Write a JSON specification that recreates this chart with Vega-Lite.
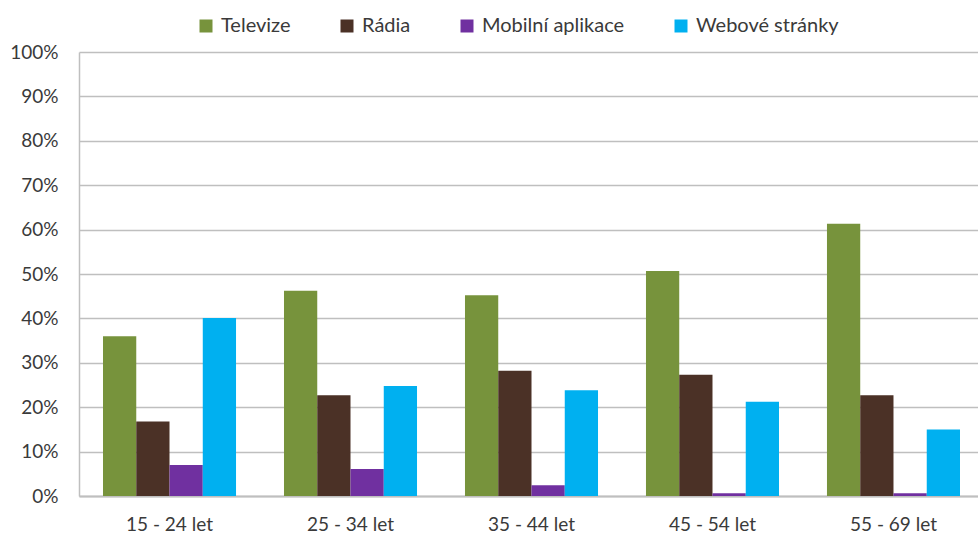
{
  "$schema": "https://vega.github.io/schema/vega-lite/v6.json",
  "width": 905,
  "height": 444,
  "autosize": {"type": "none"},
  "padding": {"left": 79, "top": 52, "right": 0, "bottom": 37},
  "background": "white",
  "data": {
    "values": [
      {"vek": "15 - 24 let", "medium": "Televize", "podil": 0.36},
      {"vek": "15 - 24 let", "medium": "Rádia", "podil": 0.168},
      {"vek": "15 - 24 let", "medium": "Mobilní aplikace", "podil": 0.07},
      {"vek": "15 - 24 let", "medium": "Webové stránky", "podil": 0.401},
      {"vek": "25 - 34 let", "medium": "Televize", "podil": 0.462},
      {"vek": "25 - 34 let", "medium": "Rádia", "podil": 0.227},
      {"vek": "25 - 34 let", "medium": "Mobilní aplikace", "podil": 0.061},
      {"vek": "25 - 34 let", "medium": "Webové stránky", "podil": 0.248},
      {"vek": "35 - 44 let", "medium": "Televize", "podil": 0.452},
      {"vek": "35 - 44 let", "medium": "Rádia", "podil": 0.282},
      {"vek": "35 - 44 let", "medium": "Mobilní aplikace", "podil": 0.024},
      {"vek": "35 - 44 let", "medium": "Webové stránky", "podil": 0.238},
      {"vek": "45 - 54 let", "medium": "Televize", "podil": 0.507},
      {"vek": "45 - 54 let", "medium": "Rádia", "podil": 0.273},
      {"vek": "45 - 54 let", "medium": "Mobilní aplikace", "podil": 0.006},
      {"vek": "45 - 54 let", "medium": "Webové stránky", "podil": 0.212},
      {"vek": "55 - 69 let", "medium": "Televize", "podil": 0.613},
      {"vek": "55 - 69 let", "medium": "Rádia", "podil": 0.227},
      {"vek": "55 - 69 let", "medium": "Mobilní aplikace", "podil": 0.006},
      {"vek": "55 - 69 let", "medium": "Webové stránky", "podil": 0.15}
    ]
  },
  "config": {
    "view": {"stroke": null},
    "font": "Lato",
    "axis": {"labelFont": "Lato", "labelFontSize": 19, "labelColor": "#3a3a3a"}
  },
  "mark": {"type": "bar"},
  "encoding": {
    "x": {
      "field": "vek",
      "type": "nominal",
      "sort": null,
      "scale": {"paddingInner": 0.265, "paddingOuter": 0.1326},
      "axis": {
        "title": null,
        "labelAngle": 0,
        "ticks": false,
        "labelPadding": 19,
        "domainColor": "#BFBFBF",
        "domainWidth": 2
      }
    },
    "xOffset": {
      "field": "medium",
      "type": "nominal",
      "sort": ["Televize", "Rádia", "Mobilní aplikace", "Webové stránky"],
      "scale": {"paddingInner": 0, "paddingOuter": 0}
    },
    "y": {
      "field": "podil",
      "type": "quantitative",
      "scale": {"domain": [0, 1], "nice": false},
      "axis": {
        "title": null,
        "format": ".0%",
        "values": [0, 0.1, 0.2, 0.3, 0.4, 0.5, 0.6, 0.7, 0.8, 0.9, 1],
        "ticks": false,
        "labelPadding": 21,
        "grid": true,
        "gridColor": "#BFBFBF",
        "gridWidth": 1.5,
        "domainColor": "#BFBFBF",
        "domainWidth": 1.5
      }
    },
    "color": {
      "field": "medium",
      "type": "nominal",
      "sort": ["Televize", "Rádia", "Mobilní aplikace", "Webové stránky"],
      "scale": {
        "domain": ["Televize", "Rádia", "Mobilní aplikace", "Webové stránky"],
        "range": ["#77933C", "#4B3126", "#7030A0", "#00B0F0"]
      },
      "legend": {
        "title": null,
        "orient": "none",
        "direction": "horizontal",
        "legendX": 117,
        "legendY": -36,
        "padding": 0,
        "symbolType": "square",
        "symbolSize": 169,
        "symbolStrokeWidth": 0,
        "labelFont": "Lato",
        "labelFontSize": 20,
        "labelColor": "#3a3a3a",
        "labelOffset": 5,
        "columnPadding": 46
      }
    }
  }
}
